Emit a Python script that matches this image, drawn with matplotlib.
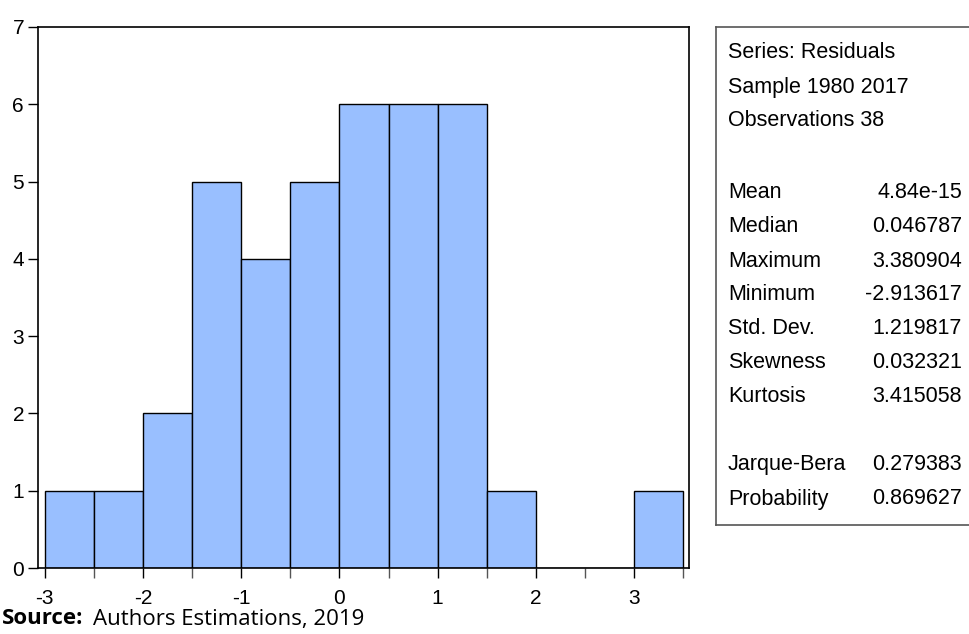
import numpy as np
import matplotlib.pyplot as plt

plt.rcParams['axes.unicode_minus'] = False

# Histogram of residuals (bin edges and counts)
bin_edges = [-3.0, -2.5, -2.0, -1.5, -1.0, -0.5, 0.0, 0.5, 1.0, 1.5, 2.0, 2.5, 3.0, 3.5]
counts = [1, 1, 2, 5, 4, 5, 6, 6, 6, 1, 0, 0, 1]

# Descriptive statistics panel
header_lines = ["Series: Residuals", "Sample 1980 2017", "Observations 38"]
stat_names = ["Mean", "Median", "Maximum", "Minimum", "Std. Dev.", "Skewness", "Kurtosis"]
stat_values = ["4.84e-15", "0.046787", "3.380904", "-2.913617", "1.219817", "0.032321", "3.415058"]
test_names = ["Jarque-Bera", "Probability"]
test_values = ["0.279383", "0.869627"]

W, H = 970, 634
fig = plt.figure(figsize=(W / 100, H / 100), dpi=100)
ax = fig.add_axes([38 / W, (H - 568) / H, (689 - 38) / W, (568 - 27) / H])

font = ["Liberation Sans Narrow", "Liberation Sans", "DejaVu Sans"]

edges = np.array(bin_edges)
ax.bar(edges[:-1], counts, width=np.diff(edges), align="edge",
       color="#99bfff", edgecolor="black", linewidth=1.0)

ax.set_xlim(-3.07, 3.56)
ax.set_ylim(0, 7)
ax.set_xticks(range(-3, 4))
ax.set_xticks(np.arange(-2.5, 3.6, 1.0), minor=True)
ax.set_yticks(range(0, 8))
ax.tick_params(axis="both", direction="out", length=7, width=1, labelsize=15)
ax.tick_params(axis="x", pad=8)
ax.tick_params(axis="y", pad=3)
ax.tick_params(axis="x", which="minor", length=7, width=1, color="#555555")
for lab in ax.get_xticklabels() + ax.get_yticklabels():
    lab.set_family(font)
for s in ax.spines.values():
    s.set_linewidth(1.2)

# stats box
box_top, box_bot = 27, 525
box = fig.add_axes([716 / W, (H - box_bot) / H, (975 - 716) / W, (box_bot - box_top) / H])
box.set_xticks([])
box.set_yticks([])
box.set_xlim(0, 1)
box.set_ylim(0, 1)
for s in box.spines.values():
    s.set_color("#555555")
    s.set_linewidth(1.2)

def to_box(y_px):
    return 1 - (y_px - box_top) / (box_bot - box_top)

lx = (728 - 716) / (975 - 716)
rx = (962 - 716) / (975 - 716)
fs = 15.5
row = 34
y = 53
for line in header_lines:
    box.text(lx, to_box(y), line, fontsize=fs, family=font, va="center", ha="left")
    y += row
y = 193
for name, val in zip(stat_names, stat_values):
    box.text(lx, to_box(y), name, fontsize=fs, family=font, va="center", ha="left")
    box.text(rx, to_box(y), val, fontsize=fs, family=font, va="center", ha="right")
    y += row
y = 465
for name, val in zip(test_names, test_values):
    box.text(lx, to_box(y), name, fontsize=fs, family=font, va="center", ha="left")
    box.text(rx, to_box(y), val, fontsize=fs, family=font, va="center", ha="right")
    y += row

src_font = ["Open Sans", "DejaVu Sans"]
fig.text(2 / W, 1 - 619 / H, "Source:", fontsize=16, fontweight="bold",
         family=src_font, va="center", ha="left")
fig.text(93 / W, 1 - 619 / H, "Authors Estimations, 2019", fontsize=16,
         family=src_font, va="center", ha="left")

fig.savefig("out.png", dpi=100)
